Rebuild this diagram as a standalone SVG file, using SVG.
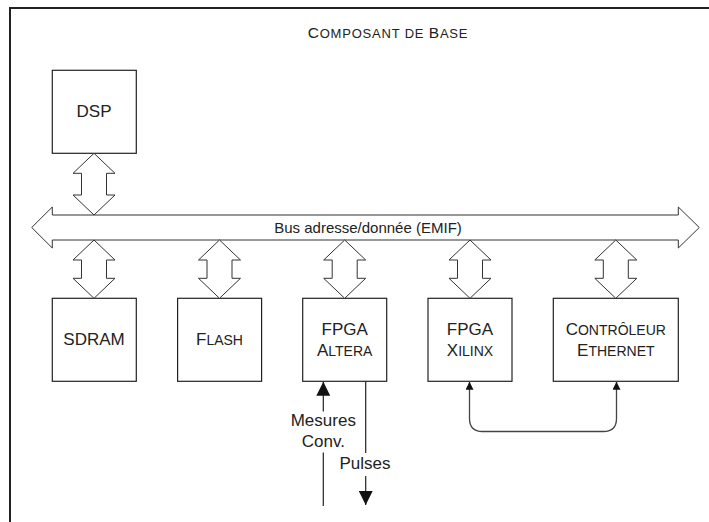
<svg xmlns="http://www.w3.org/2000/svg" width="709" height="522" viewBox="0 0 709 522">
<style>
.box{fill:#fff;stroke:#222;stroke-width:1.2}
.dbl{fill:#fff;stroke:#333;stroke-width:1}
.t{font-family:"Liberation Sans",Arial,sans-serif;fill:#222;text-anchor:middle}
.big{font-size:17px}
.sc{font-size:14px}
.wire{fill:none;stroke:#222;stroke-width:1.2}
.link{fill:none;stroke:#444;stroke-width:1.3}
</style>
<defs>
<marker id="ahBig" viewBox="0 0 10 10" refX="10" refY="5" markerWidth="15" markerHeight="14" markerUnits="userSpaceOnUse" orient="auto-start-reverse"><path d="M0,0 L10,5 L0,10 z" fill="#111"/></marker>
<marker id="ahSmall" viewBox="0 0 10 10" refX="10" refY="5" markerWidth="9" markerHeight="8" markerUnits="userSpaceOnUse" orient="auto-start-reverse"><path d="M0,0 L10,5 L0,10 z" fill="#111"/></marker>
</defs>
<rect width="709" height="522" fill="#fff"/>
<g id="frame">
<path d="M10,523 V8 H710" fill="none" stroke="#222" stroke-width="2"/>
<text class="t" x="388" y="37.5" font-size="15.5" letter-spacing="0.8"><tspan>C</tspan><tspan font-size="13">OMPOSANT DE </tspan><tspan>B</tspan><tspan font-size="13">ASE</tspan></text>
</g>
<g id="bus">
<polygon class="dbl" points="31.7,227.5 52.3,207 52.3,215 678.3,215 678.3,207 699.3,227.5 678.3,248 678.3,240 52.3,240 52.3,248"/>
<text class="t" x="368" y="233" font-size="15">Bus adresse/donnée (EMIF)</text>
</g>
<g id="dsp">
<rect class="box" x="52.3" y="70.3" width="84" height="83"/>
<text class="t big" x="94" y="117.3">DSP</text>
</g>
<g id="sdram">
<rect class="box" x="52.3" y="298.3" width="84" height="83"/>
<text class="t big" x="94" y="345.3">SDRAM</text>
</g>
<g id="flash">
<rect class="box" x="177.6" y="298.3" width="84" height="83"/>
<text class="t big" x="219.5" y="345.3">F<tspan class="sc">LASH</tspan></text>
</g>
<g id="fpga-altera">
<rect class="box" x="302.7" y="298.3" width="84" height="83"/>
<text class="t big" x="344.7" y="335">FPGA</text>
<text class="t big" x="344.7" y="355.7">A<tspan class="sc">LTERA</tspan></text>
</g>
<g id="fpga-xilinx">
<rect class="box" x="428" y="298.3" width="84" height="83"/>
<text class="t big" x="470" y="335">FPGA</text>
<text class="t big" x="470" y="355.7">X<tspan class="sc">ILINX</tspan></text>
</g>
<g id="ethernet">
<rect class="box" x="553.3" y="298.3" width="125" height="83"/>
<text class="t big" x="615.8" y="335">C<tspan class="sc">ONTRÔLEUR</tspan></text>
<text class="t big" x="615.8" y="355.7">E<tspan class="sc">THERNET</tspan></text>
</g>
<g id="connectors">
<polygon class="dbl" points="94,153.3 115,173.3 106.5,173.3 106.5,195 115,195 94,215 73,195 81.5,195 81.5,173.3 73,173.3"/>
<polygon class="dbl" points="94,240 115,260 106.5,260 106.5,278.3 115,278.3 94,298.3 73,278.3 81.5,278.3 81.5,260 73,260"/>
<polygon class="dbl" points="219.5,240 240.5,260 232,260 232,278.3 240.5,278.3 219.5,298.3 198.5,278.3 207,278.3 207,260 198.5,260"/>
<polygon class="dbl" points="344.7,240 365.7,260 357.2,260 357.2,278.3 365.7,278.3 344.7,298.3 323.7,278.3 332.2,278.3 332.2,260 323.7,260"/>
<polygon class="dbl" points="470,240 491,260 482.5,260 482.5,278.3 491,278.3 470,298.3 449,278.3 457.5,278.3 457.5,260 449,260"/>
<polygon class="dbl" points="615.8,240 636.8,260 628.3,260 628.3,278.3 636.8,278.3 615.8,298.3 594.8,278.3 603.3,278.3 603.3,260 594.8,260"/>
<path class="wire" d="M323.3,411.5 V381.8" marker-end="url(#ahBig)"/>
<path class="wire" d="M323.3,452.5 V506"/>
<text class="t big" x="323.3" y="426">Mesures</text>
<text class="t big" x="323.3" y="446.7">Conv.</text>
<path class="wire" d="M365.7,381.5 V453"/>
<path class="wire" d="M365.7,476 V505" marker-end="url(#ahBig)"/>
<text class="t big" x="365" y="469.3">Pulses</text>
<path class="link" d="M469.5,381.8 V418.5 Q469.5,431.5 482.5,431.5 H603.5 Q616.5,431.5 616.5,418.5 V381.8" marker-start="url(#ahSmall)" marker-end="url(#ahSmall)"/>
</g>
</svg>
